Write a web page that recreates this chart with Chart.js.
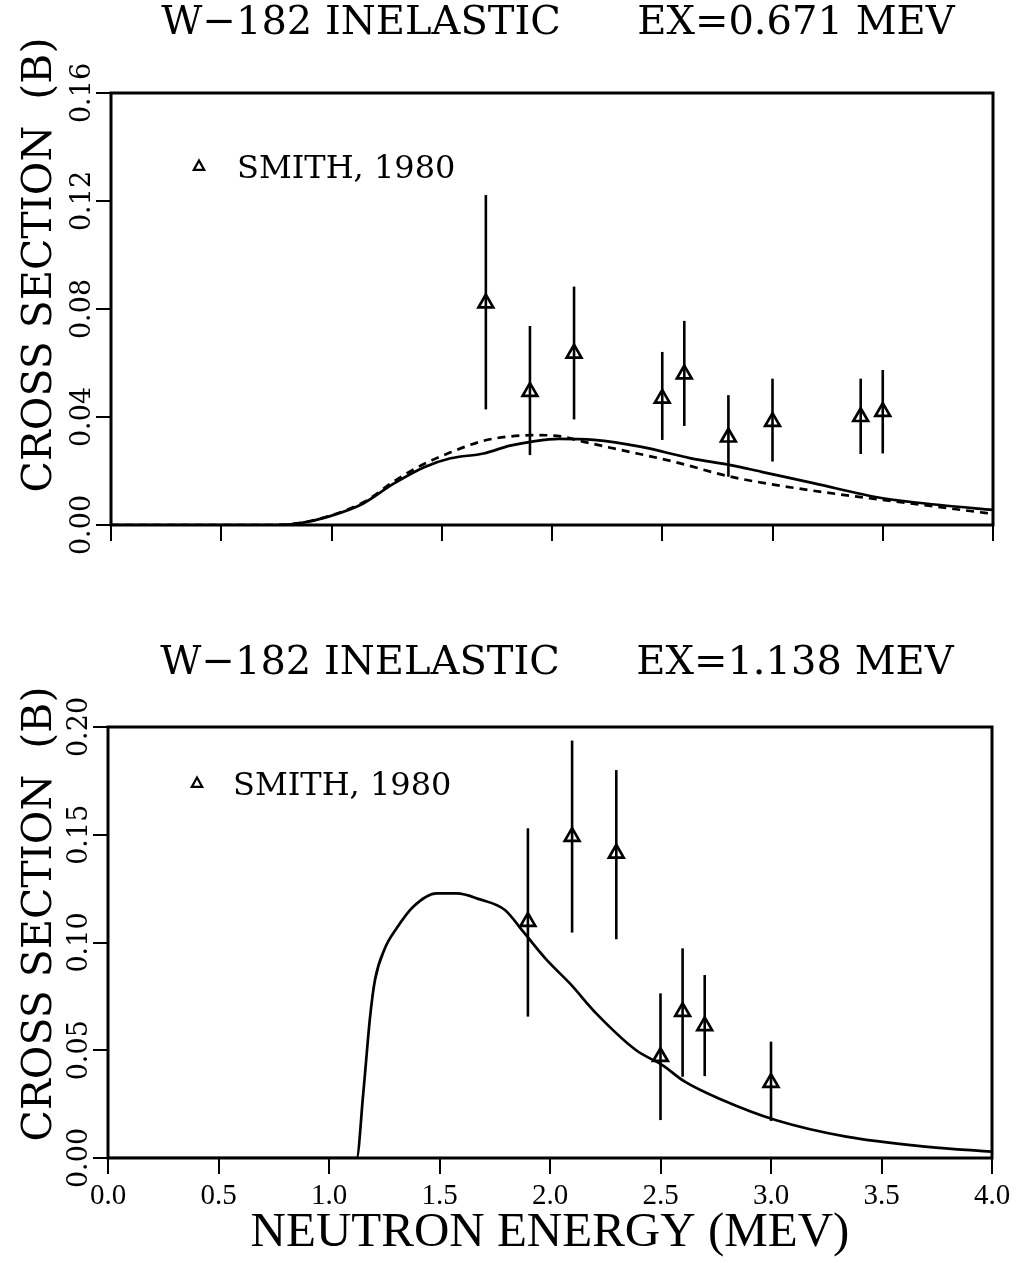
<!DOCTYPE html>
<html>
<head>
<meta charset="utf-8">
<script src="https://cdn.jsdelivr.net/npm/chart.js@4/dist/chart.umd.min.js"></script>
<style>
  html, body { margin: 0; padding: 0; background: #fff; }
  #wrap { position: relative; width: 1026px; height: 1263px; background: #fff; }
  canvas { position: absolute; left: 0; }
  #c1 { top: 0; }
  #c2 { top: 580px; }
</style>
</head>
<body>
<div id="wrap">
  <canvas id="c1" width="1026" height="580"></canvas>
  <canvas id="c2" width="1026" height="683"></canvas>
</div>
<script>
/* ===================== DATA ===================== */

// x axis (neutron energy, MeV)
const xTicks = [0, 0.5, 1.0, 1.5, 2.0, 2.5, 3.0, 3.5, 4.0];
const xTickLabels = ['0.0', '0.5', '1.0', '1.5', '2.0', '2.5', '3.0', '3.5', '4.0'];

// ---- EX = 0.671 MeV ----
const topYTicks = [0, 0.04, 0.08, 0.12, 0.16];
const topYTickLabels = ['0.00', '0.04', '0.08', '0.12', '0.16'];

const topSolidE = [0, 0.75, 0.86, 0.99, 1.14, 1.28, 1.42, 1.54, 1.69, 1.81, 1.91, 2.03, 2.19, 2.4, 2.63, 2.81, 2.95, 3.19, 3.5, 3.76, 4.0];
const topSolidXS = [0, 0, 0.0007, 0.0032, 0.0078, 0.0152, 0.0214, 0.0247, 0.0265, 0.0294, 0.0309, 0.0319, 0.0315, 0.029, 0.0247, 0.0222, 0.0197, 0.0154, 0.0099, 0.0074, 0.0056];

const topDashE = [0, 0.75, 0.86, 1.0, 1.15, 1.28, 1.41, 1.54, 1.69, 1.81, 1.93, 2.04, 2.14, 2.3, 2.55, 2.81, 3.11, 3.44, 3.76, 4.0];
const topDashXS = [0, 0, 0.0008, 0.0036, 0.0086, 0.016, 0.0222, 0.0269, 0.0312, 0.0328, 0.0333, 0.0328, 0.0309, 0.028, 0.0235, 0.0179, 0.0136, 0.0099, 0.0066, 0.0041];

const topSmithE = [1.7, 1.9, 2.1, 2.5, 2.6, 2.8, 3.0, 3.4, 3.5];
const topSmithXS = [0.0822, 0.0494, 0.0636, 0.0469, 0.0559, 0.0325, 0.0383, 0.0401, 0.0420];
const topSmithLo = [0.0428, 0.0259, 0.0391, 0.0315, 0.0367, 0.0179, 0.0235, 0.0263, 0.0265];
const topSmithHi = [0.1222, 0.0737, 0.0883, 0.0641, 0.0756, 0.0481, 0.0542, 0.0542, 0.0574];

// ---- EX = 1.138 MeV ----
const botYTicks = [0, 0.05, 0.10, 0.15, 0.20];
const botYTickLabels = ['0.00', '0.05', '0.10', '0.15', '0.20'];

const botSolidE = [0, 1.125, 1.155, 1.186, 1.208, 1.253, 1.306, 1.381, 1.487, 1.578, 1.683, 1.796, 1.879, 1.985, 2.09, 2.21, 2.39, 2.51, 2.61, 2.78, 3.02, 3.34, 3.71, 4.0];
const botSolidXS = [0, 0, 0.030, 0.0656, 0.0826, 0.0973, 0.1066, 0.1166, 0.1228, 0.1228, 0.120, 0.1151, 0.105, 0.0919, 0.081, 0.067, 0.050, 0.043, 0.0354, 0.0269, 0.0176, 0.0099, 0.0052, 0.0029];

const botSmithE = [1.9, 2.1, 2.3, 2.5, 2.6, 2.7, 3.0];
const botSmithXS = [0.1097, 0.1491, 0.1414, 0.0470, 0.0679, 0.0613, 0.0350];
const botSmithLo = [0.0656, 0.1046, 0.1015, 0.0176, 0.0377, 0.0380, 0.0172];
const botSmithHi = [0.1530, 0.1937, 0.1800, 0.0764, 0.0973, 0.0849, 0.0540];

/* ===================== HELPERS ===================== */

const SERIF = '"DejaVu Serif", "Liberation Serif", serif';
const TIMES = '"Liberation Serif", "DejaVu Serif", serif';

let pts = (xs, ys) => xs.map((x, i) => ({ x, y: ys[i] }));

// error bars, frame, titles, legend
const decor = {
  id: 'decor',
  beforeDatasetsDraw(chart, args, o) {
    const { ctx, scales: { x, y } } = chart;
    ctx.save();
    ctx.strokeStyle = '#000';
    ctx.lineWidth = 2.6;
    o.errE.forEach((e, i) => {
      const px = x.getPixelForValue(e);
      ctx.beginPath();
      ctx.moveTo(px, y.getPixelForValue(o.errLo[i]));
      ctx.lineTo(px, y.getPixelForValue(o.errHi[i]));
      ctx.stroke();
    });
    ctx.restore();
  },
  afterDraw(chart, args, o) {
    const { ctx, chartArea: a } = chart;
    ctx.save();
    ctx.strokeStyle = '#000';
    ctx.lineWidth = 3;
    ctx.strokeRect(a.left, a.top, a.right - a.left, a.bottom - a.top);

    ctx.fillStyle = '#000';
    ctx.textAlign = 'center';
    ctx.textBaseline = 'middle';
    ctx.font = '40px ' + SERIF;
    ctx.fillText(o.title, o.titleX, o.titleY);

    ctx.save();
    ctx.translate(o.yTitleX, o.yTitleY);
    ctx.rotate(-Math.PI / 2);
    ctx.font = '41px ' + SERIF;
    ctx.fillText('CROSS SECTION  (B)', 0, 0);
    ctx.restore();

    // legend
    const lx = o.legX, ly = o.legY, r = 5.5;
    ctx.lineWidth = 2.2;
    ctx.beginPath();
    ctx.moveTo(lx, ly - r);
    ctx.lineTo(lx + r * 0.95, ly + r * 0.7);
    ctx.lineTo(lx - r * 0.95, ly + r * 0.7);
    ctx.closePath();
    ctx.stroke();
    ctx.textAlign = 'left';
    ctx.textBaseline = 'alphabetic';
    ctx.font = '32px ' + SERIF;
    ctx.fillText('SMITH, 1980', o.legTextX, o.legBase);
    ctx.restore();
  }
};

let makeChart = (canvas, cfg) => new Chart(canvas.getContext('2d'), {
  type: 'scatter',
  data: {
    datasets: [
      ...cfg.curves.map(c => ({
        data: c.data,
        showLine: true,
        pointRadius: 0,
        borderColor: '#000',
        borderWidth: 2.7,
        borderDash: c.dash || [],
        cubicInterpolationMode: 'monotone',
        fill: false
      })),
      {
        data: cfg.points,
        pointStyle: 'triangle',
        pointRadius: 8.5,
        pointBorderWidth: 2.7,
        pointBackgroundColor: 'rgba(0,0,0,0)',
        pointBorderColor: '#000',
        showLine: false
      }
    ]
  },
  options: {
    responsive: false,
    animation: false,
    devicePixelRatio: 1,
    layout: { padding: cfg.padding },
    plugins: {
      legend: { display: false },
      tooltip: { enabled: false },
      decor: cfg.decor
    },
    scales: {
      x: {
        type: 'linear',
        min: 0, max: 4,
        afterBuildTicks: s => { s.ticks = xTicks.map(v => ({ value: v })); },
        afterFit: s => { s.height = cfg.xAxisH; },
        ticks: {
          display: cfg.xLabels,
          autoSkip: false, maxRotation: 0,
          color: '#000',
          padding: 5,
          font: { family: TIMES, size: 29 },
          callback: (v, i) => xTickLabels[i]
        },
        grid: { drawOnChartArea: false, tickLength: 16, color: '#000', lineWidth: 2 },
        border: { display: false },
        title: {
          display: cfg.xLabels,
          text: 'NEUTRON ENERGY (MEV)',
          color: '#000',
          font: { family: TIMES, size: 49 },
          padding: 0
        }
      },
      y: {
        type: 'linear',
        min: cfg.yTicks[0], max: cfg.yTicks[cfg.yTicks.length - 1],
        afterBuildTicks: s => { s.ticks = cfg.yTicks.map(v => ({ value: v })); },
        afterFit: s => { s.width = cfg.yAxisW; },
        ticks: {
          autoSkip: false,
          minRotation: 90, maxRotation: 90,
          crossAlign: 'center',
          color: '#000',
          padding: -17,
          font: { family: SERIF, size: 27 },
          callback: (v, i) => cfg.yLabels[i]
        },
        grid: { drawOnChartArea: false, tickLength: 15, color: '#000', lineWidth: 2 },
        border: { display: false }
      }
    }
  },
  plugins: [decor]
});

/* ===================== CHARTS ===================== */

makeChart(document.getElementById('c1'), {
  curves: [
    { data: pts(topSolidE, topSolidXS) },
    { data: pts(topDashE, topDashXS), dash: [8, 6] }
  ],
  points: pts(topSmithE, topSmithXS),
  yTicks: topYTicks,
  yLabels: topYTickLabels,
  xLabels: false,
  padding: { top: 93, right: 33, bottom: 0, left: 0 },
  xAxisH: 55,
  yAxisW: 111,
  decor: {
    errE: topSmithE, errLo: topSmithLo, errHi: topSmithHi,
    title: 'W\u2212182 INELASTIC      EX=0.671 MEV', titleX: 558, titleY: 24,
    yTitleX: 40, yTitleY: 265,
    legX: 199, legY: 166, legTextX: 237, legBase: 178
  }
});

makeChart(document.getElementById('c2'), {
  curves: [
    { data: pts(botSolidE, botSolidXS) }
  ],
  points: pts(botSmithE, botSmithXS),
  yTicks: botYTicks,
  yLabels: botYTickLabels,
  xLabels: true,
  padding: { top: 147, right: 34, bottom: 0, left: 0 },
  xAxisH: 105,
  yAxisW: 108,
  decor: {
    errE: botSmithE, errLo: botSmithLo, errHi: botSmithHi,
    title: 'W\u2212182 INELASTIC      EX=1.138 MEV', titleX: 557, titleY: 84,
    yTitleX: 40, yTitleY: 334,
    legX: 197, legY: 203, legTextX: 233, legBase: 215
  }
});
</script>
</body>
</html>
